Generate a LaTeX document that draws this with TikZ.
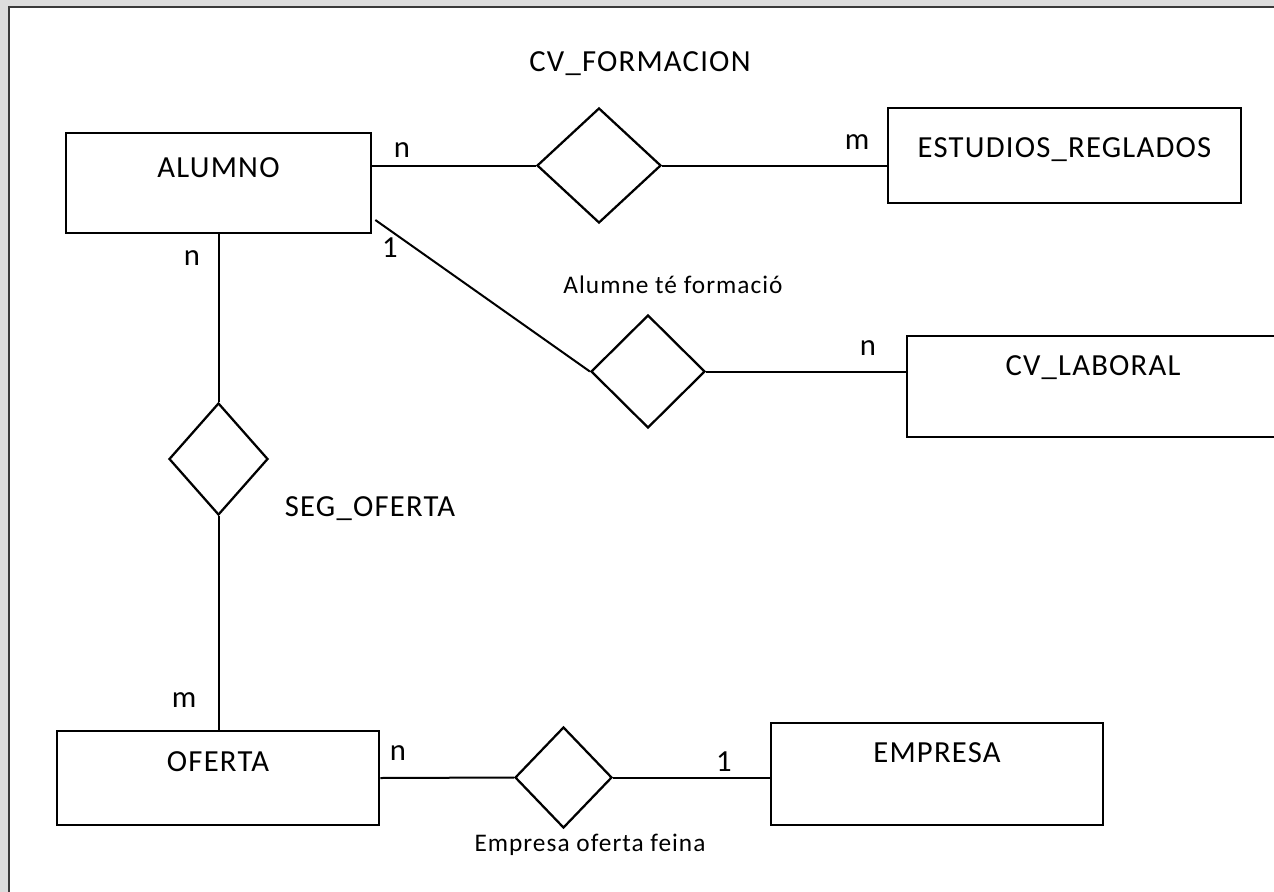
\documentclass[tikz,border=0pt]{standalone}
\usepackage{fontspec}
\setmainfont{Carlito}[LetterSpace=4]
\usetikzlibrary{shapes.geometric}
\newdimen\pxu \pxu=0.75pt
\definecolor{fondo}{HTML}{DDDDDD}
\definecolor{marco}{HTML}{3A3A3A}
\tikzset{
	% entidad
	entidad/.style n args={4}{
		draw,
		line width=2pt,
		inner sep=0pt,
		minimum width=#1\pxu,
		text height=#2\pxu,
		text depth=#3\pxu,
		font=\fontsize{23}{27}\selectfont,
		xshift=#4\pxu
	}, %
	% relacion
	relacion/.style 2 args={
		diamond,
		draw,
		line width=1.7pt,
		inner sep=0pt,
		minimum width=#1\pxu,
		minimum height=#2\pxu
	}, %
	linea/.style={line width=1.5pt},
	card/.style={inner sep=0pt, font=\fontsize{23}{27}\selectfont},
	nombre/.style={anchor=base, inner sep=0pt, font=\fontsize{23}{27}\selectfont},
	nombrep/.style={anchor=base, inner sep=0pt, font=\fontsize{19}{23}\selectfont}
}

\begin{document}
\begin{tikzpicture}[x=0.75pt, y=-0.75pt]
	\useasboundingbox (0,0) rectangle (1274,892);
	\clip (0,0) rectangle (1274,892);

	% hoja
	\fill[fondo] (0,0) rectangle (1274,892);
	\draw[marco, line width=0.8pt, fill=white] (9,7) rectangle (1300,920);

	% entidades
	\node[entidad={305}{44}{56}{0}] (alumno) at (218.5,183) {ALUMNO};
	\node[entidad={353}{49}{46}{0}] (estudios) at (1064.5,155.5) {ESTUDIOS\_REGLADOS};
	\node[entidad={372}{39}{62}{0}] (cvlab) at (1093,386.5) {CV\_LABORAL};
	\node[entidad={322}{40}{54}{0}] (oferta) at (218,778) {OFERTA};
	\node[entidad={332}{39}{63}{0}] (empresa) at (937,774) {EMPRESA};

	% relaciones
	\node[relacion={124}{115}] (cvform) at (599,165.5) {};
	\node[relacion={114}{113}] (alumform) at (648,371.5) {};
	\node[relacion={99}{112}] (segof) at (218.5,459) {};
	\node[relacion={97}{101}] (empof) at (563.5,777.5) {};

	% lineas
	\draw[linea] (cvform.west -| alumno.east) -- (cvform.west);
	\draw[linea] (cvform.east) -- (cvform.east -| estudios.west);
	\draw[linea] ([shift={(3,37)}]alumno.east) -- (alumform.west);
	\draw[linea] (alumform.east) -- (alumform.east -| cvlab.west);
	\draw[linea] (alumno.south) -- (segof.north);
	\draw[linea] (segof.south) -- (segof.south |- oferta.north);
	\draw[linea] (oferta.east) -- (empof.west);
	\draw[linea] (empof.east) -- (empof.east -| empresa.west);

	% cardinalidades
	\node[card] (c1) at (402,150) {n};
	\node[card] (c2) at (857,142) {m};
	\node[card] (c3) at (390,248) {1};
	\node[card] (c4) at (868,348) {n};
	\node[card] (c5) at (192,258) {n};
	\node[card] (c6) at (184,700) {m};
	\node[card] (c7) at (398,753) {n};
	\node[card] (c8) at (724,762) {1};

	% nombres
	\node[nombre] (tcvform) at (640,71.5) {CV\_FORMACION};
	\node[nombrep] (talumform) at (673,293) {Alumne té formació};
	\node[nombre] (tsegof) at (370,516) {SEG\_OFERTA};
	\node[nombrep] (tempof) at (590,851) {Empresa oferta feina};
\end{tikzpicture}
\end{document}
